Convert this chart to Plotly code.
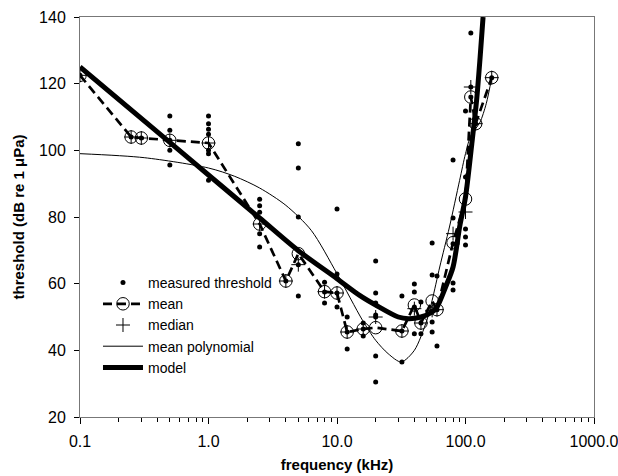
import plotly.graph_objects as go

# ---- data ----
meas_freq = [0.1, 0.25, 0.3,
             0.5, 0.5, 0.5, 0.5, 0.5,
             1.0, 1.0, 1.0, 1.0, 1.0, 1.0, 1.0,
             2.5, 2.5, 2.5, 2.5, 2.5,
             4,
             5, 5, 5, 5, 5,
             8, 8, 8,
             10, 10, 10, 10,
             12, 12, 12,
             16, 16, 16,
             20, 20, 20, 20, 20, 20, 20,
             32, 32, 32,
             40, 40, 40, 40,
             45, 45, 45,
             55, 55, 55, 55,
             60, 60, 60,
             80, 80, 80, 80, 80,
             100, 100, 100, 100, 100,
             110, 110, 110,
             120, 160]
meas_db = [122.5, 104, 103.7,
           110.3, 106, 103, 100, 95.6,
           110.3, 108, 106.3, 104.8, 100, 99, 91,
           85.3, 83.4, 81.4, 75, 71,
           60.8,
           102, 94.7, 80, 65.7, 56.3,
           60.4, 54.2, 57.5,
           82.4, 62.9, 53, 57.2,
           50, 40.4, 45.5,
           48.2, 44.3, 46.4,
           66.8, 57.2, 54.2, 50.6, 38.3, 30.5, 50,
           56.3, 36.5, 45.8,
           59.9, 57.5, 53, 45,
           54.5, 48.2, 45,
           72.2, 62.6, 48.5, 45.5,
           62.3, 52.2, 41.3,
           97.1, 79.7, 72, 60.2, 58.1,
           111.8, 92, 76.4, 74, 71.6,
           135.2, 116, 119,
           108, 121.8]

mean_freq = [0.1, 0.25, 0.3, 0.5, 1.0, 2.5, 4, 5, 8, 10, 12, 16, 20, 32, 40, 45,
             55, 60, 80, 100, 110, 120, 160]
mean_db = [122.5, 104, 103.7, 103, 102.2, 77.9, 60.8, 69, 57.6, 57.2, 45.5, 46.4,
           46.8, 45.8, 53.6, 48.2, 54.8, 52.2, 72.3, 85.4, 116, 108, 121.8]
median_db = [122.5, 104, 103.7, 103, 102.2, 77.9, 60.8, 65.7, 57.6, 57.2, 45.5, 46.4,
             50, 45.8, 52.5, 48.2, 52, 52.2, 75, 81.5, 119, 108, 121.8]

poly_freq = [0.1, 0.316, 1.0, 1.6, 2.5, 4, 6.3, 10, 15.8, 20, 25, 31.6, 40, 50, 55,
             63, 75, 90, 100, 110, 120, 130, 145, 160]
poly_db = [99, 97.8, 94.7, 92.2, 88.7, 83.5, 76, 63, 49, 43, 39, 36.5, 40, 49, 55,
           65, 77, 91, 99, 104.5, 106.5, 108.5, 114, 121.8]

model_freq = [0.1, 0.5, 1, 2.5, 5, 10, 15, 20, 30, 36, 45, 55, 60, 70, 80, 90,
              100, 112, 122, 130, 137]
model_db = [125, 102.4, 92.6, 79.7, 69.9, 61.5, 56.5, 53.6, 50, 49.5, 50, 51.5,
            53, 59, 65, 77, 86, 102, 115, 128, 140]

x_tickvals = [0.1, 1, 10, 100, 1000]
x_ticktext = ["0.1", "1.0", "10.0", "100.0", "1000.0"]
x_minor = [k * 10.0 ** e for e in range(-1, 3) for k in range(2, 10)]

fig = go.Figure()

fig.add_trace(go.Scatter(
    x=poly_freq, y=poly_db, mode="lines", name="mean polynomial",
    line=dict(color="black", width=1, shape="spline", smoothing=0.8),
    legendrank=4))

fig.add_trace(go.Scatter(
    x=model_freq, y=model_db, mode="lines", name="model",
    line=dict(color="black", width=5, shape="spline", smoothing=0.8),
    legendrank=5))

fig.add_trace(go.Scatter(
    x=mean_freq, y=mean_db, mode="lines+markers", name="mean",
    line=dict(color="black", width=2.7, dash="9px,5px"),
    marker=dict(symbol="circle-open", size=12.5, color="black", line=dict(width=1)),
    legendrank=2))

fig.add_trace(go.Scatter(
    x=mean_freq, y=median_db, mode="markers", name="median",
    marker=dict(symbol="cross-thin", size=10, color="black", line=dict(width=1, color="black")),
    legendrank=3))

fig.add_trace(go.Scatter(
    x=meas_freq, y=meas_db, mode="markers", name="measured threshold",
    marker=dict(symbol="circle", size=5, color="black"),
    legendrank=1))

axis_color = "#777777"
fig.update_layout(
    width=618, height=476,
    margin=dict(l=80, r=24, t=17, b=59, autoexpand=False),
    paper_bgcolor="white", plot_bgcolor="white",
    font=dict(family="Liberation Sans, Arial, sans-serif", color="black", size=16),
    showlegend=True,
    legend=dict(x=0.035, y=0.375, xanchor="left", yanchor="top",
                bgcolor="rgba(0,0,0,0)", font=dict(size=14),
                tracegroupgap=0, itemwidth=40),
    xaxis=dict(type="log", range=[-1, 3], tickvals=x_tickvals, ticktext=x_ticktext,
               ticks="outside", ticklen=6, tickcolor="black", showline=True,
               linecolor=axis_color, mirror=True, showgrid=False, zeroline=False,
               ticklabeloverflow="allow", ticklabelstandoff=4, automargin=False,
               minor=dict(tickvals=x_minor, ticks="outside", ticklen=4, tickcolor="black"),
               title=dict(text="<b>frequency (kHz)</b>", font=dict(size=15), standoff=10),
               tickfont=dict(size=16)),
    yaxis=dict(range=[20, 140], dtick=20, ticks="outside", ticklen=5, tickcolor="black",
               showline=True, linecolor=axis_color, mirror=True, showgrid=False,
               zeroline=False, ticklabelstandoff=5, automargin=False,
               title=dict(text="<b>threshold (dB re 1 μPa)</b>", font=dict(size=15), standoff=10),
               tickfont=dict(size=16)),
)

fig.write_html("out.html")
